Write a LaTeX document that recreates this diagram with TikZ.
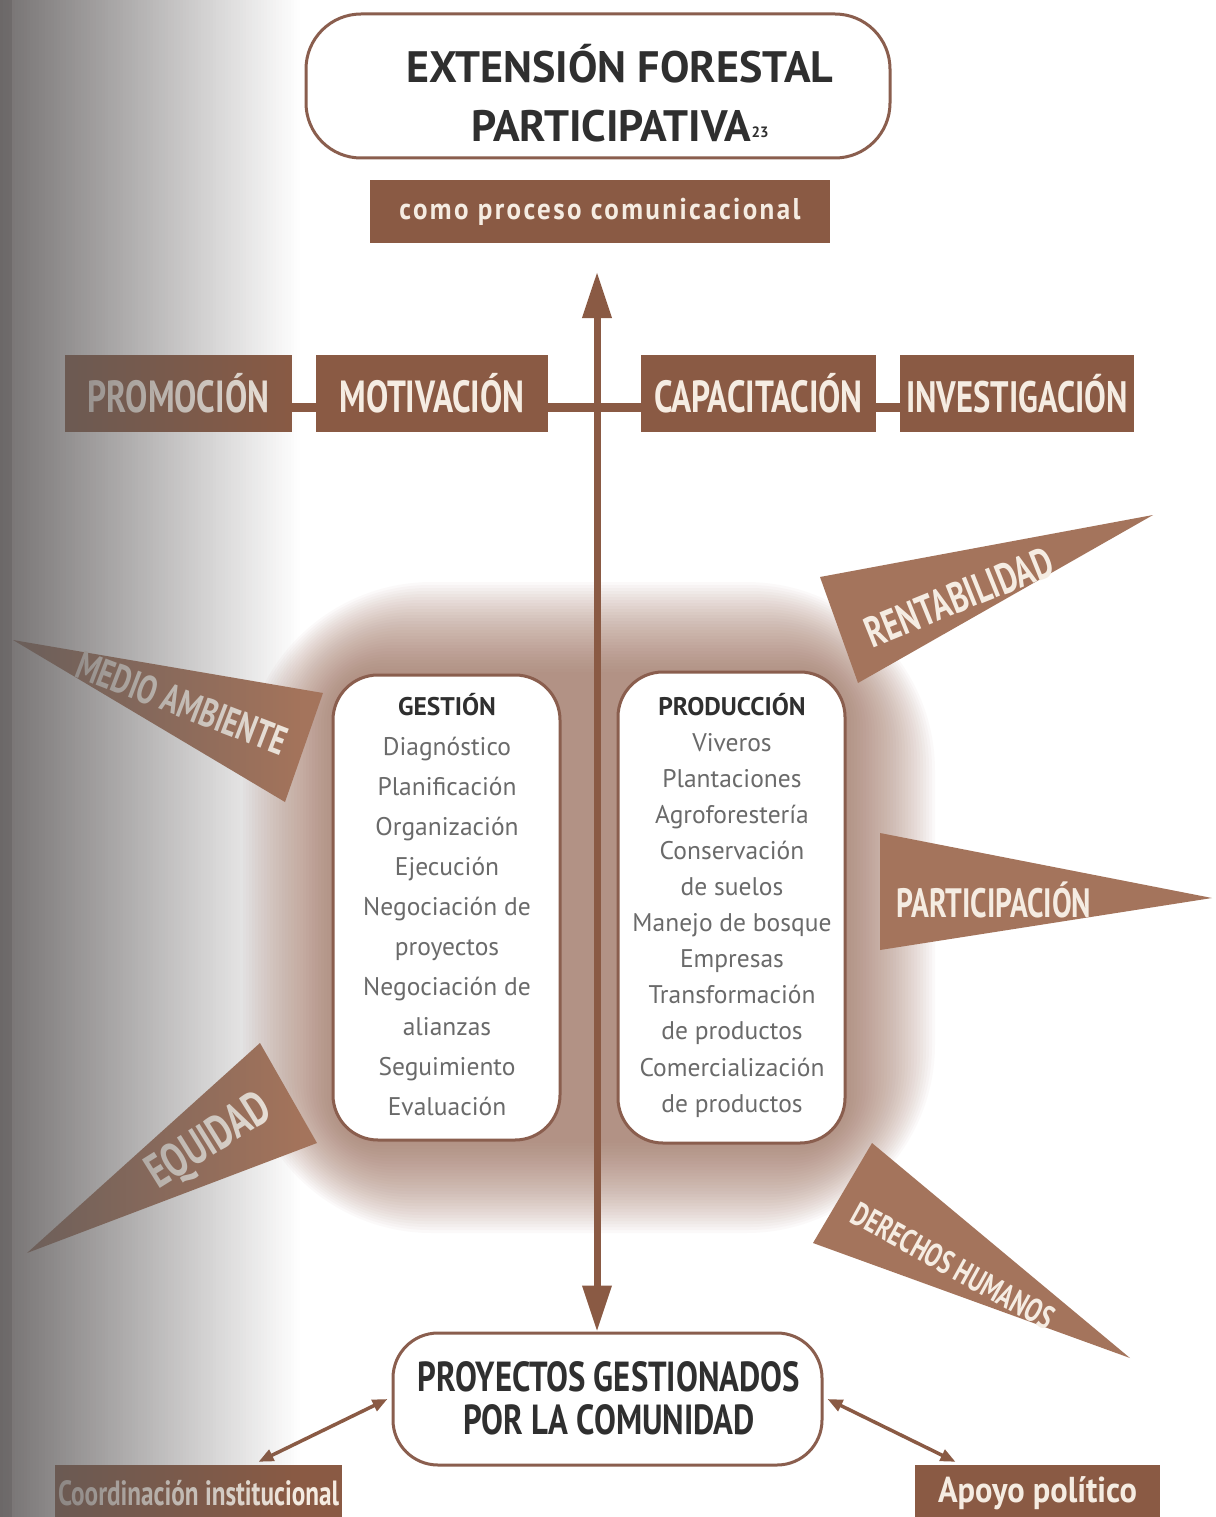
\documentclass[tikz,border=0pt]{standalone}
\usepackage{fontspec}
\setmainfont{PT Sans}
\newfontfamily\cond[FakeStretch=0.72]{PT Sans}
\newfontfamily\condb[FakeStretch=0.78]{PT Sans}
\newfontfamily\tagf[FakeStretch=0.74]{PT Sans}
\newfontfamily\semi[FakeStretch=0.9]{PT Sans}
\newfontfamily\spaced[FakeStretch=0.9,LetterSpace=8]{PT Sans}
\usetikzlibrary{arrows.meta,calc}
\definecolor{boxbrown}{HTML}{8A5A44}
\definecolor{penbrown}{HTML}{A4745C}
\definecolor{edgebrown}{HTML}{8A5E4E}
\definecolor{cream}{HTML}{F5ECE2}
\definecolor{darktext}{HTML}{2F2F2F}
\definecolor{itemgray}{HTML}{6A6A6A}
\definecolor{gutter}{HTML}{5E5A5A}
\definecolor{glowbrown}{HTML}{9A6A56}
\tikzset{
  tagbox/.style={fill=boxbrown, text=cream, inner sep=0pt, font=\tagf\bfseries\fontsize{45}{45}\selectfont, minimum height=77pt},
  roundbox/.style={draw=edgebrown, line width=3pt, fill=white, inner sep=0pt},
  pennant/.style={fill=penbrown},
  pentext/.style={text=cream, inner sep=0pt, font=\cond\bfseries\fontsize{40}{40}\selectfont},
  items/.style={text=itemgray, align=center, inner sep=0pt, font=\fontsize{25.5}{#1}\selectfont},
  bigarrow/.style={draw=boxbrown, line width=7pt, {Triangle[width=28pt,length=46pt]}-{Triangle[width=28pt,length=46pt]}},
  smallarrow/.style={draw=boxbrown, line width=3.5pt, {Triangle[width=12pt,length=15pt]}-{Triangle[width=12pt,length=15pt]}}
}
\begin{document}
\begin{tikzpicture}[x=1pt,y=-1pt]
\useasboundingbox (0,0) rectangle (1215,1517);
\fill[white] (0,0) rectangle (1215,1517);
% soft halo round the two central boxes
\foreach \d in {0,3,...,90}{
  \pgfmathsetmacro\rc{45+1.6*\d}
  \fill[glowbrown, opacity=0.034, rounded corners=\rc pt] (333-\d,672-\d) rectangle (845+\d,1143+\d);
}

% title
\node[roundbox, rounded corners=55pt, minimum width=584pt, minimum height=144pt] (title) at (598,86) {};
\node[text=darktext, align=center, inner sep=0pt, font=\bfseries\fontsize{44}{59}\selectfont] (titletext) at (620,93)
  {EXTENSIÓN FORESTAL\\PARTICIPATIVA{\fontsize{15}{15}\selectfont\raisebox{4pt}{23}}};
\node[tagbox, minimum width=460pt, minimum height=63pt, font=\spaced\bfseries\fontsize{30}{30}\selectfont] (como) at (600,211.5) {como proceso comunicacional};

% horizontal bar
\coordinate (bar) at (0,407);
\coordinate (toparr) at (597,272);

\node[tagbox, minimum width=227pt] (promo) at (178.5,393.5) {PROMOCIÓN};
\node[tagbox, minimum width=232pt] (motiv) at (432,393.5) {MOTIVACIÓN};
\node[tagbox, minimum width=235pt] (capac) at (758.5,393.5) {CAPACITACIÓN};
\node[tagbox, minimum width=234pt, font=\tagf\bfseries\fontsize{44}{44}\selectfont] (inves) at (1017,393.5) {INVESTIGACIÓN};
\draw[draw=boxbrown, line width=9pt] (promo.east |- bar) -- (motiv.west |- bar);
\draw[draw=boxbrown, line width=9pt] (motiv.east |- bar) -- (capac.west |- bar);
\draw[draw=boxbrown, line width=9pt] (capac.east |- bar) -- (inves.west |- bar);

% pennants
\fill[pennant] (820,577) -- (858,683) -- (1153,515) -- cycle;
\node[pentext, rotate=22, font=\cond\bfseries\fontsize{43}{43}\selectfont] (rent) at (959,597) {RENTABILIDAD};
\fill[pennant] (13,640) -- (323,693) -- (285,802) -- cycle;
\node[pentext, rotate=-21] (medio) at (182,703) {MEDIO AMBIENTE};
\fill[pennant] (880,833) -- (880,950) -- (1212,898) -- cycle;
\node[pentext, font=\cond\bfseries\fontsize{41}{41}\selectfont] (part) at (994,900) {PARTICIPACIÓN};
\fill[pennant] (260,1043) -- (317,1143) -- (27,1253) -- cycle;
\node[pentext, rotate=32, font=\cond\bfseries\fontsize{48}{48}\selectfont] (equi) at (210,1143) {EQUIDAD};
\fill[pennant] (872,1143) -- (813,1243) -- (1130,1358) -- cycle;
\node[pentext, rotate=-29, font=\cond\bfseries\fontsize{33}{33}\selectfont] (dere) at (953,1266) {DERECHOS HUMANOS};

% central boxes
\node[roundbox, rounded corners=45pt, minimum width=227pt, minimum height=465pt] (gest) at (446.5,907.5) {};
\node[items=40] (gestlist) at (447,905)
  {{\color{darktext}\bfseries GESTIÓN}\\Diagnóstico\\Planificación\\Organización\\Ejecución\\Negociación de\\proyectos\\Negociación de\\alianzas\\Seguimiento\\Evaluación};
\node[roundbox, rounded corners=45pt, minimum width=227pt, minimum height=471pt] (prod) at (731.5,907.5) {};
\node[items=36.1] (prodlist) at (732,905)
  {{\color{darktext}\bfseries PRODUCCIÓN}\\Viveros\\Plantaciones\\Agroforestería\\Conservación\\de suelos\\Manejo de bosque\\Empresas\\Transformación\\de productos\\Comercialización\\de productos};

% bottom box
\node[roundbox, rounded corners=45pt, minimum width=429pt, minimum height=132pt] (pgc) at (607.5,1399) {};
\node[text=darktext, align=center, inner sep=0pt, font=\condb\bfseries\fontsize{42}{43}\selectfont] (pgctext) at (609,1398)
  {PROYECTOS GESTIONADOS\\POR LA COMUNIDAD};

\node[tagbox, minimum width=287pt, minimum height=56pt, font=\cond\bfseries\fontsize{35}{35}\selectfont] (coord) at (198.5,1493) {Coordinación institucional};
\node[tagbox, minimum width=245pt, minimum height=56pt, font=\semi\bfseries\fontsize{36}{36}\selectfont] (apoyo) at (1037.5,1493) {Apoyo político};

% connectors
\draw[bigarrow] (toparr) -- (pgc.north -| toparr);
\draw[smallarrow] ($(coord.north)+(60,-3)$) -- ($(pgc.west)+(-4,0)$);
\draw[smallarrow] ($(pgc.east)+(4,0)$) -- ($(apoyo.north)+(-82,-3)$);

% gutter shadow of the scan (left edge)
\foreach \i in {0,...,99}{
  \pgfmathsetmacro\op{0.86*(1-(\i+0.5)/100)}
  \fill[gutter, opacity=\op] (\i*3,0) rectangle (\i*3+3,1517);
}
\fill[gutter, opacity=0.35] (0,0) rectangle (12,1517);
\end{tikzpicture}
\end{document}
